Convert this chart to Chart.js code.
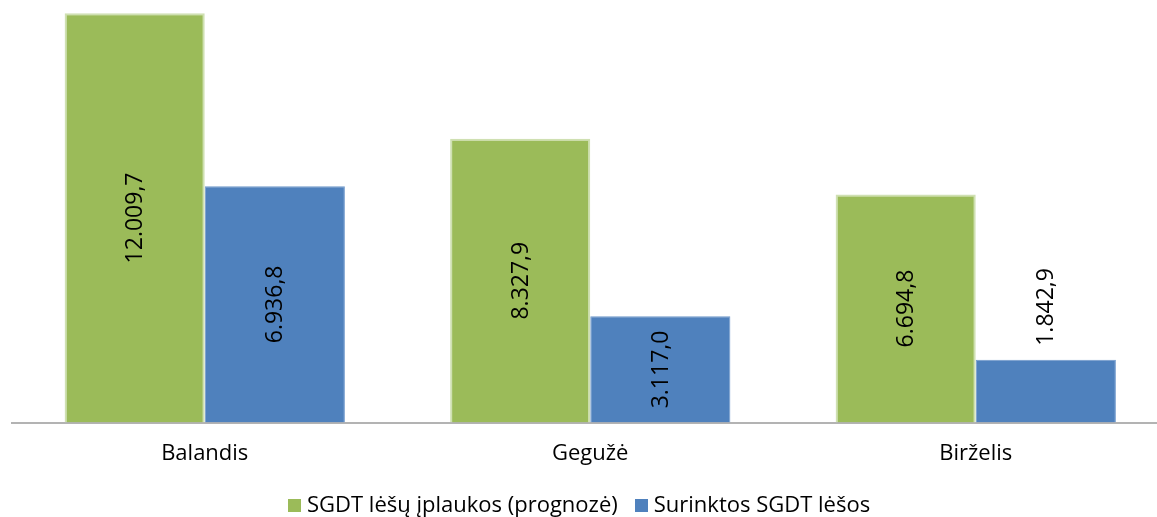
<!DOCTYPE html>
<html>
<head>
<meta charset="utf-8">
<script src="https://cdn.jsdelivr.net/npm/chart.js@4"></script>
<style>
html,body{margin:0;padding:0;background:#fff;overflow:hidden;}
#wrap{width:1157px;height:517px;overflow:hidden;position:relative;}
canvas{display:block;}
</style>
</head>
<body>
<div id="wrap"><canvas id="c" width="1204" height="517"></canvas></div>
<script>
const categories = ["Balandis", "Gegužė", "Birželis"];
const forecast = [12009.7, 8327.9, 6694.8];
const collected = [6936.8, 3117.0, 1842.9];
const seriesNames = ["SGDT lėšų įplaukos (prognozė)", "Surinktos SGDT lėšos"];

const FONT = "'Open Sans', 'Noto Sans', sans-serif";

function fmt(v) {
  const parts = v.toFixed(1).split(".");
  const intPart = parts[0].replace(/\B(?=(\d{3})+(?!\d))/g, ".");
  return intPart + "," + parts[1];
}

const labelPlugin = {
  id: "vlabels",
  afterDatasetsDraw(chart) {
    const ctx = chart.ctx;
    ctx.save();
    ctx.font = "23px " + FONT;
    ctx.fillStyle = "#000";
    ctx.textAlign = "center";
    ctx.textBaseline = "middle";
    chart.data.datasets.forEach((ds, di) => {
      const meta = chart.getDatasetMeta(di);
      meta.data.forEach((bar, i) => {
        const txt = fmt(ds.data[i]);
        const w = ctx.measureText(txt).width;
        const h = bar.base - bar.y;
        let cy;
        if (h > w + 24) cy = (bar.y + bar.base) / 2;
        else cy = bar.y - 14 - w / 2;
        ctx.save();
        ctx.translate(bar.x, cy);
        ctx.rotate(-Math.PI / 2);
        ctx.fillText(txt, 0, 1);
        ctx.restore();
      });
    });
    ctx.restore();
  }
};

// Bottom legend drawn from the dataset labels/colours
const legendPlugin = {
  id: "bottomLegend",
  afterDraw(chart) {
    const ctx = chart.ctx;
    const box = 13, gapText = 6, gapItem = 17;
    const startX = 288, cy = 505;
    ctx.save();
    ctx.font = "22px " + FONT;
    ctx.textBaseline = "middle";
    ctx.textAlign = "left";
    let x = startX;
    chart.data.datasets.forEach(ds => {
      const tw = ctx.measureText(ds.label).width;
      ctx.fillStyle = ds.backgroundColor;
      ctx.fillRect(Math.round(x), Math.round(cy - box / 2), box, box);
      ctx.fillStyle = "#000";
      ctx.fillText(ds.label, x + box + gapText, cy + 1);
      x += box + gapText + tw + gapItem;
    });
    ctx.restore();
  }
};

new Chart(document.getElementById("c"), {
  type: "bar",
  data: {
    labels: categories,
    datasets: [
      {
        label: seriesNames[0],
        data: forecast,
        backgroundColor: "#9BBB59",
        borderColor: "#CFE0B2",
        borderWidth: 2,
        borderSkipped: "bottom",
        categoryPercentage: 0.727,
        barPercentage: 1.0
      },
      {
        label: seriesNames[1],
        data: collected,
        backgroundColor: "#4F81BD",
        borderColor: "#6F98CB",
        borderWidth: 1,
        borderSkipped: "bottom",
        categoryPercentage: 0.727,
        barPercentage: 1.0
      }
    ]
  },
  options: {
    responsive: false,
    animation: false,
    devicePixelRatio: 1,
    layout: { padding: { left: 12, right: 35.5, top: 0, bottom: 32 } },
    scales: {
      x: {
        grid: { display: false, drawTicks: false },
        border: { display: true, color: "#B3B3B3", width: 2 },
        ticks: { color: "#000", font: { family: FONT, size: 22 }, padding: 18 }
      },
      y: {
        display: false,
        min: 0,
        max: 12400
      }
    },
    plugins: {
      legend: { display: false },
      tooltip: { enabled: false }
    }
  },
  plugins: [labelPlugin, legendPlugin]
});
</script>
</body>
</html>
